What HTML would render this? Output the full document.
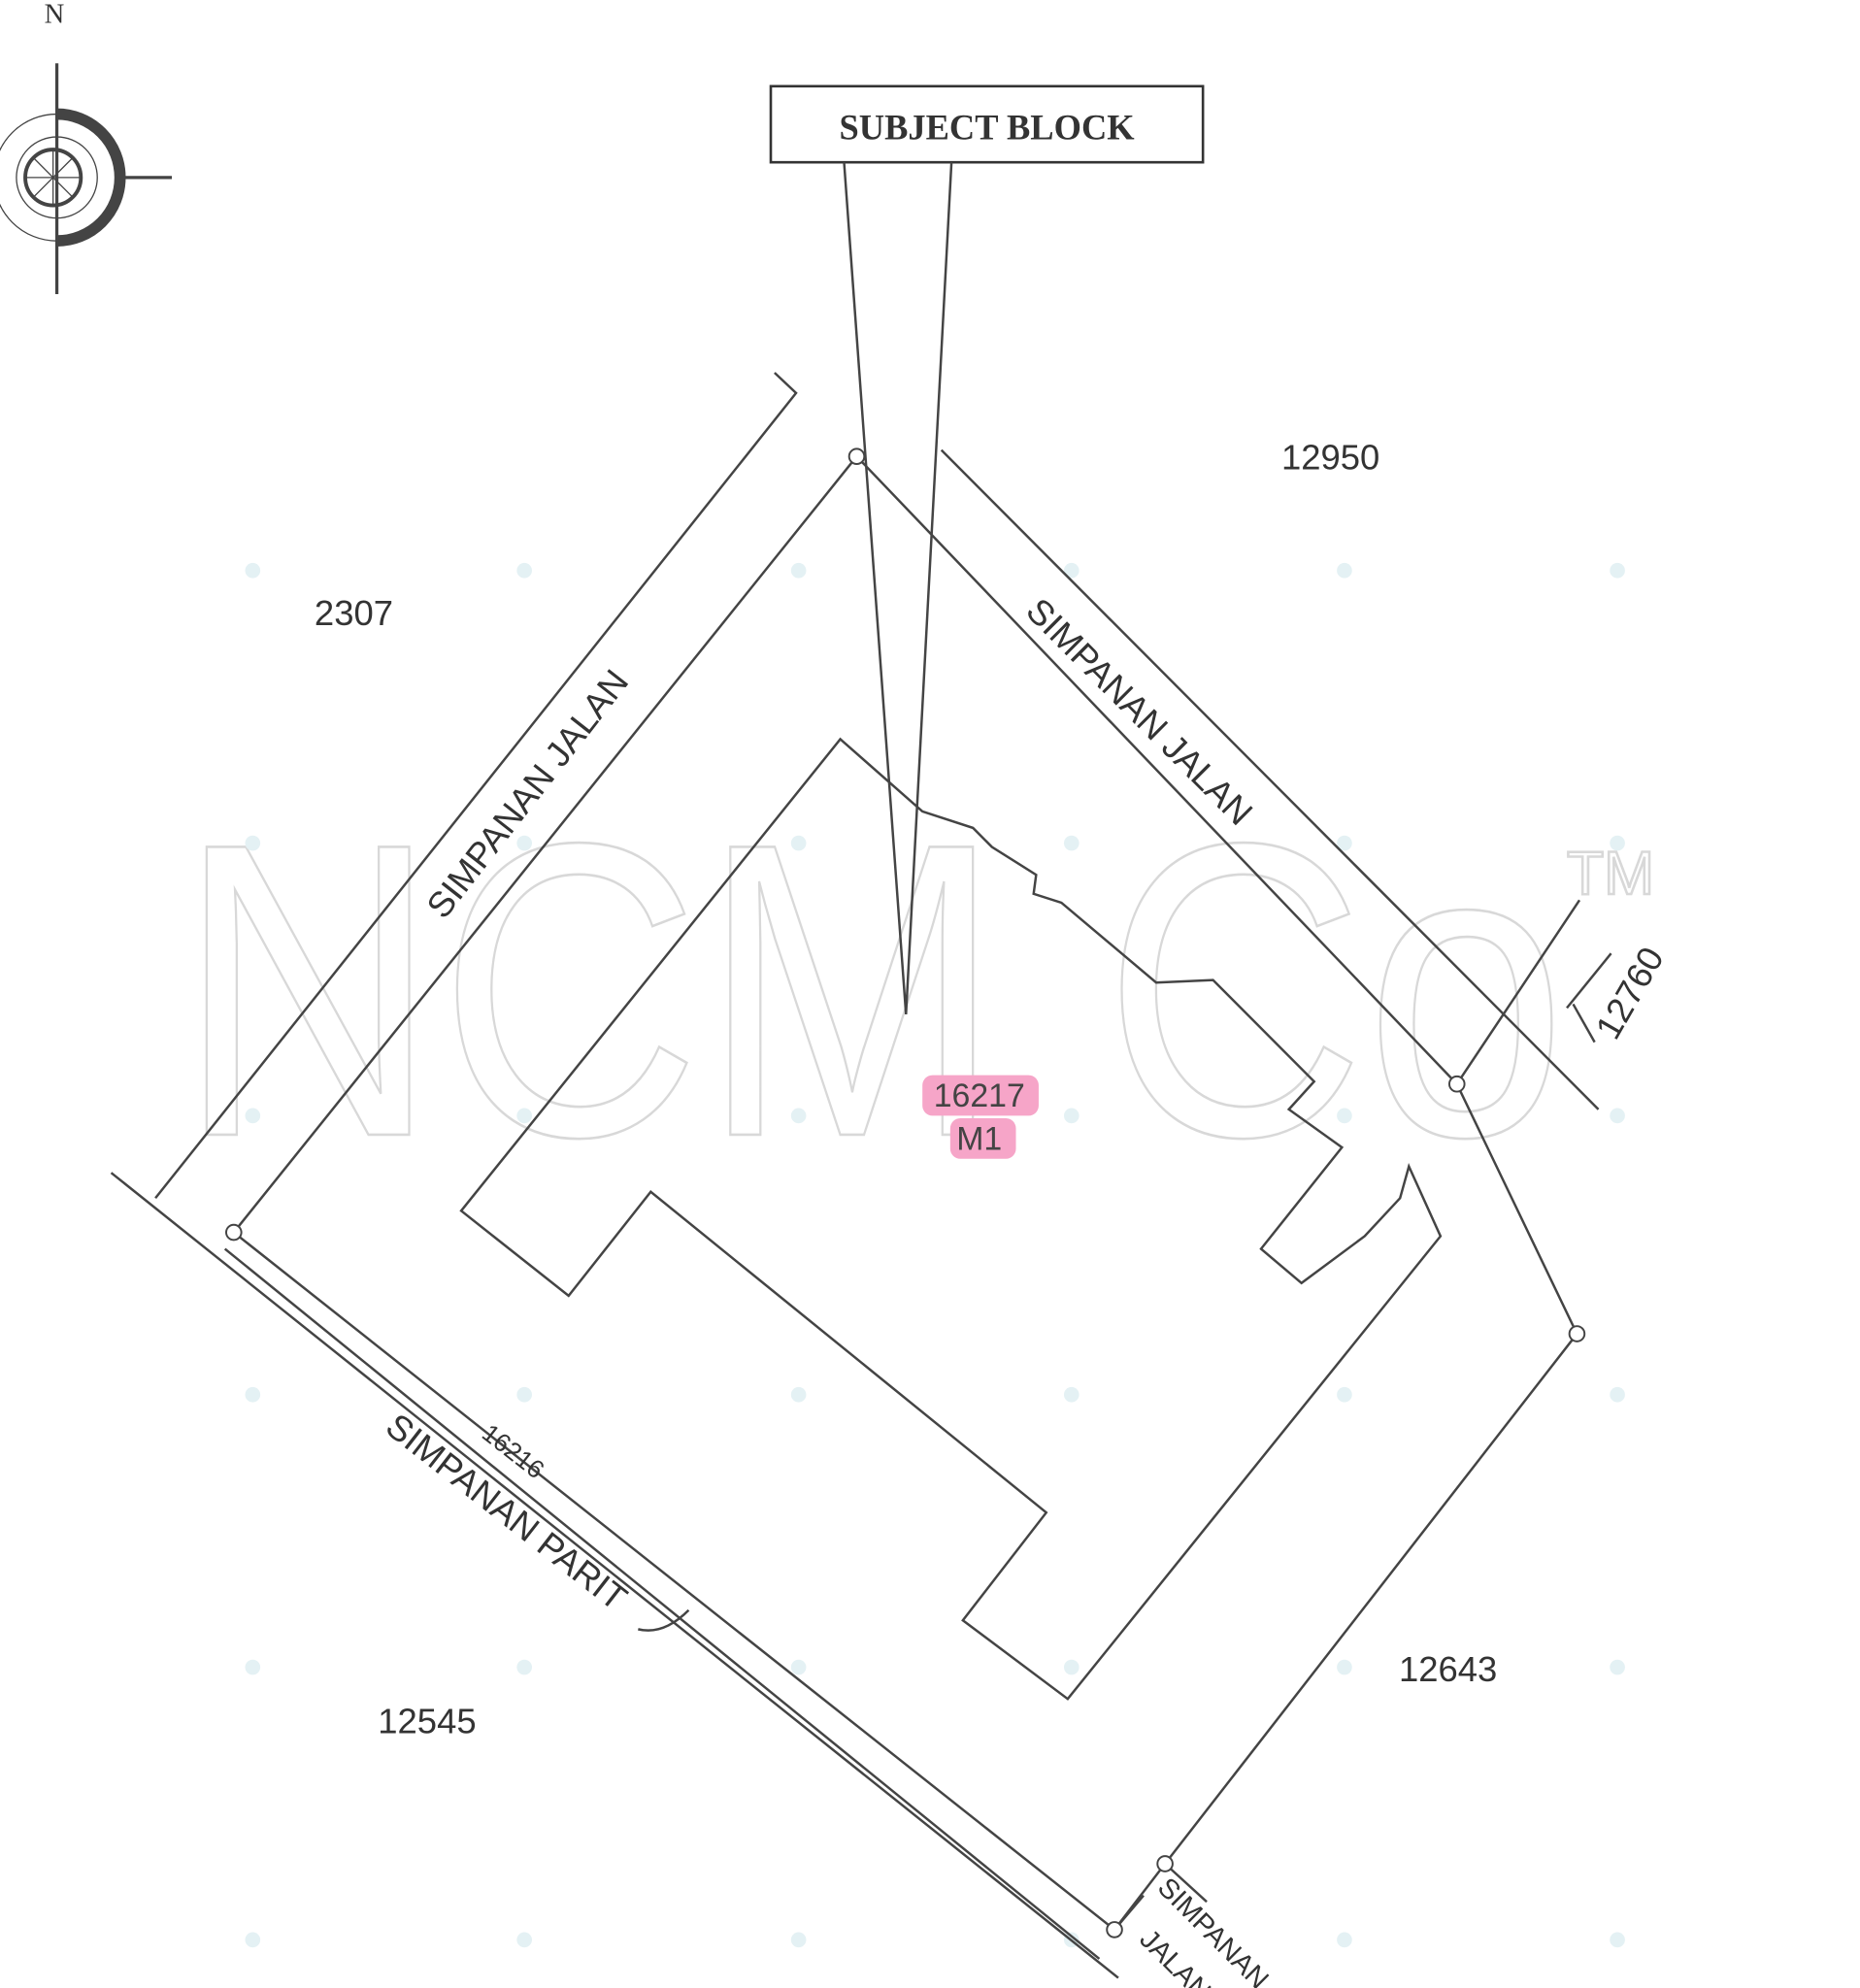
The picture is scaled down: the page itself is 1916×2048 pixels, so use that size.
<!DOCTYPE html>
<html><head><style>html,body{margin:0;padding:0;background:#fff}svg{display:block}</style></head>
<body>
<svg width="1916" height="2048" viewBox="0 0 1472 1568" preserveAspectRatio="none" xmlns="http://www.w3.org/2000/svg" font-family="Liberation Sans, sans-serif">
<rect width="1472" height="1568" fill="#fff"/>
<g fill="none" stroke="#d8d8d8" stroke-width="2">
<text x="140" y="895" font-size="330" font-family="Liberation Sans, sans-serif" textLength="1100" lengthAdjust="spacingAndGlyphs">NCM Co</text>
<text x="1240" y="705" font-size="48">TM</text>
</g>
<g fill="#e4f1f4">
<circle cx="200" cy="450" r="6"/><circle cx="415" cy="450" r="6"/><circle cx="632" cy="450" r="6"/><circle cx="848" cy="450" r="6"/><circle cx="1064" cy="450" r="6"/><circle cx="1280" cy="450" r="6"/>
<circle cx="200" cy="665" r="6"/><circle cx="415" cy="665" r="6"/><circle cx="632" cy="665" r="6"/><circle cx="848" cy="665" r="6"/><circle cx="1064" cy="665" r="6"/><circle cx="1280" cy="665" r="6"/>
<circle cx="200" cy="880" r="6"/><circle cx="415" cy="880" r="6"/><circle cx="632" cy="880" r="6"/><circle cx="848" cy="880" r="6"/><circle cx="1064" cy="880" r="6"/><circle cx="1280" cy="880" r="6"/>
<circle cx="200" cy="1100" r="6"/><circle cx="415" cy="1100" r="6"/><circle cx="632" cy="1100" r="6"/><circle cx="848" cy="1100" r="6"/><circle cx="1064" cy="1100" r="6"/><circle cx="1280" cy="1100" r="6"/>
<circle cx="200" cy="1315" r="6"/><circle cx="415" cy="1315" r="6"/><circle cx="632" cy="1315" r="6"/><circle cx="848" cy="1315" r="6"/><circle cx="1064" cy="1315" r="6"/><circle cx="1280" cy="1315" r="6"/>
<circle cx="200" cy="1530" r="6"/><circle cx="415" cy="1530" r="6"/><circle cx="632" cy="1530" r="6"/><circle cx="848" cy="1530" r="6"/><circle cx="1064" cy="1530" r="6"/><circle cx="1280" cy="1530" r="6"/>
</g>
<text x="43" y="18" font-size="22" font-family="Liberation Serif, serif" text-anchor="middle" fill="#333">N</text>
<g stroke="#444" fill="none">
<line x1="45" y1="50" x2="45" y2="232" stroke-width="2.5"/>
<line x1="95" y1="140" x2="136" y2="140" stroke-width="2.5"/>
<circle cx="45" cy="140" r="50" stroke-width="1"/>
<path d="M45 90 A50 50 0 0 1 45 190" stroke-width="9"/>
<circle cx="45" cy="140" r="32" stroke-width="1"/>
<circle cx="42" cy="140" r="22" stroke-width="3"/>
<line x1="20" y1="140" x2="65" y2="140"/><line x1="42" y1="118" x2="42" y2="162"/>
<line x1="27" y1="125" x2="57" y2="155"/><line x1="57" y1="125" x2="27" y2="155"/>
</g>
<rect x="610" y="68" width="342" height="60" fill="#fff" stroke="#333" stroke-width="2"/>
<text x="781" y="110" font-size="28" font-weight="bold" font-family="Liberation Serif, serif" text-anchor="middle" fill="#333">SUBJECT BLOCK</text>
<g stroke="#444" stroke-width="1.9" fill="none">
<polyline points="668,128 717,800 753,128"/>
<polyline points="613,294 630,310 123,945"/>
<line x1="678" y1="360" x2="185" y2="972"/>
<line x1="745" y1="355" x2="1265" y2="875"/>
<line x1="678" y1="360" x2="1153" y2="855"/>
<polyline points="1153,855 1248,1052 922,1470 882,1522"/>
<line x1="1153" y1="855" x2="1250" y2="710"/>
<line x1="1240" y1="795" x2="1275" y2="752"/>
<line x1="1262" y1="822" x2="1245" y2="792"/>
<line x1="922" y1="1470" x2="955" y2="1500"/>
<line x1="88" y1="925" x2="885" y2="1560"/>
<line x1="185" y1="972" x2="882" y2="1522"/>
<line x1="178" y1="985" x2="870" y2="1545"/>
<line x1="882" y1="1522" x2="905" y2="1495"/>
<polygon points="665,583 730,640 770,653 785,668 820,690 818,705 840,712 915,775 960,773 1040,853 1020,875 1062,905 998,985 1030,1012 1080,975 1108,945 1115,920 1140,975 845,1340 762,1278 828,1193 515,940 450,1022 365,955"/>
<path d="M505,1285 Q525,1290 545,1270"/>
</g>
<g fill="#fff" stroke="#444" stroke-width="1.5">
<circle cx="678" cy="360" r="6"/><circle cx="185" cy="972" r="6"/><circle cx="1153" cy="855" r="6"/>
<circle cx="1248" cy="1052" r="6"/><circle cx="922" cy="1470" r="6"/><circle cx="882" cy="1522" r="6"/>
</g>
<g fill="#333" font-size="28">
<text x="1053" y="370" text-anchor="middle">12950</text>
<text x="280" y="493" text-anchor="middle">2307</text>
<text x="338" y="1367" text-anchor="middle">12545</text>
<text x="1146" y="1326" text-anchor="middle">12643</text>
<text transform="translate(1298,788) rotate(-60)" text-anchor="middle">12760</text>
<text transform="translate(425,632) rotate(-52)" text-anchor="middle">SIMPANAN JALAN</text>
<text transform="translate(895,568) rotate(45)" text-anchor="middle">SIMPANAN JALAN</text>
<text transform="translate(395,1200) rotate(38)" text-anchor="middle">SIMPANAN PARIT</text>
<text transform="translate(402,1150) rotate(38)" text-anchor="middle" font-size="20">16216</text>
<text transform="translate(955,1530) rotate(45)" text-anchor="middle" font-size="22">SIMPANAN</text>
<text transform="translate(925,1555) rotate(45)" text-anchor="middle" font-size="22">JALAN</text>
</g>
<rect x="730" y="848" width="92" height="32" rx="8" fill="#f6a5c8"/>
<rect x="752" y="882" width="52" height="32" rx="8" fill="#f6a5c8"/>
<text x="775" y="873" font-size="26" text-anchor="middle" fill="#444">16217</text>
<text x="775" y="907" font-size="26" text-anchor="middle" fill="#444">M1</text>
</svg>
</body></html>
